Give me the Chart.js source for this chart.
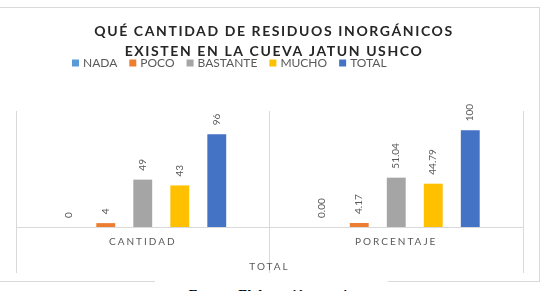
<!DOCTYPE html>
<html><head><meta charset="utf-8">
<script src="https://cdn.jsdelivr.net/npm/chart.js@4/dist/chart.umd.min.js"></script>
<style>
html,body{margin:0;padding:0;background:#fff;overflow:hidden;}
body{width:543px;height:291px;position:relative;}
#frame{position:absolute;left:-5px;top:7px;width:545px;height:275px;box-sizing:border-box;border:1px solid #d9d9d9;}
#wrap{position:absolute;left:0;top:0;width:543px;height:291px;}
#c{display:block;}
#caption{position:absolute;left:155px;top:279px;width:233px;height:20px;background:#fff;text-align:center;font:bold 14px "Liberation Serif",serif;line-height:14px;padding-top:10px;box-sizing:border-box;color:#000;white-space:nowrap;}
</style></head>
<body>
<div id="frame"></div>
<div id="wrap"><canvas id="c" width="543" height="291"></canvas></div>
<div id="caption">Fuente: Elaboración propia</div>
<script>
// ---- data ----
const categories = ['CANTIDAD', 'PORCENTAJE'];
const groupLabel = 'TOTAL';
const seriesNames = ['NADA', 'POCO', 'BASTANTE', 'MUCHO', 'TOTAL'];
const nada = [0, 0];
const poco = [4, 4.17];
const bastante = [49, 51.04];
const mucho = [43, 44.79];
const total = [96, 100];
const titleLines = ['QUÉ CANTIDAD DE RESIDUOS INORGÁNICOS', 'EXISTEN EN LA CUEVA JATUN USHCO'];

// ---- styles ----
const seriesColors = ['#5B9BD5', '#ED7D31', '#A5A5A5', '#FFC000', '#4472C4'];
const seriesData = [nada, poco, bastante, mucho, total];
const txtGray = '#595959';
const lineGray = '#d9d9d9';

function fmt(v, catIndex) {
  if (catIndex === 0) return String(v);
  return (Number.isInteger(v) && v !== 0) ? String(v) : v.toFixed(2);
}

const spacingPlugin = {
  id: 'spacing',
  beforeDraw(chart) { chart.ctx.letterSpacing = '2px'; },
  beforeDatasetsDraw(chart) { chart.ctx.letterSpacing = '0px'; }
};

const labelPlugin = {
  id: 'barLabels',
  afterDatasetsDraw(chart) {
    const ctx = chart.ctx;
    ctx.save();
    ctx.letterSpacing = '0px';
    ctx.font = '10px Lato';
    ctx.fillStyle = txtGray;
    ctx.textAlign = 'left';
    ctx.textBaseline = 'middle';
    chart.data.datasets.forEach((ds, di) => {
      const meta = chart.getDatasetMeta(di);
      meta.data.forEach((bar, i) => {
        ctx.save();
        ctx.translate(bar.x, bar.y - 9);
        ctx.rotate(-Math.PI / 2);
        ctx.fillText(fmt(ds.data[i], i), 0, 0);
        ctx.restore();
      });
    });
    ctx.restore();
  }
};

const headerPlugin = {
  id: 'header',
  afterDraw(chart) {
    const ctx = chart.ctx;
    ctx.save();
    // title
    ctx.letterSpacing = '1.6px';
    ctx.font = 'bold 14px Lato';
    ctx.fillStyle = '#262626';
    ctx.textAlign = 'center';
    ctx.textBaseline = 'middle';
    ctx.fillText(titleLines[0], 274, 31);
    ctx.fillText(titleLines[1], 274, 51);
    // legend
    ctx.letterSpacing = '0px';
    ctx.font = '12px Lato';
    ctx.textAlign = 'left';
    let x = 72;
    const y = 63;
    chart.data.datasets.forEach((ds) => {
      ctx.fillStyle = ds.backgroundColor;
      ctx.fillRect(x, y - 3.5, 7, 7);
      ctx.fillStyle = txtGray;
      ctx.fillText(ds.label, x + 11, y);
      x += 11 + ctx.measureText(ds.label).width + 12;
    });
    ctx.restore();
  }
};

new Chart(document.getElementById('c'), {
  type: 'bar',
  data: {
    labels: categories,
    datasets: seriesNames.map((n, i) => ({
      label: n,
      data: seriesData[i],
      backgroundColor: seriesColors[i],
      borderWidth: 0,
      barPercentage: 0.51,
      categoryPercentage: 0.73
    }))
  },
  options: {
    responsive: false,
    animation: false,
    layout: { padding: { left: 16, right: 20, top: 111, bottom: 0 } },
    plugins: { legend: { display: false }, title: { display: false }, tooltip: { enabled: false } },
    scales: {
      x: {
        offset: true,
        grid: { offset: true, color: lineGray, lineWidth: 1, drawTicks: true, tickLength: 46, tickColor: lineGray },
        border: { display: true, color: lineGray, width: 1 },
        ticks: { color: txtGray, font: { family: 'Lato', size: 10 }, padding: -37, autoSkip: false, maxRotation: 0 },
        title: { display: true, text: groupLabel, color: txtGray, font: { family: 'Lato', size: 10 }, padding: { top: 0, bottom: 18 } },
        afterFit(scale) { scale.height = 64; }
      },
      y: { display: false, min: 0, max: 120 }
    }
  },
  plugins: [spacingPlugin, labelPlugin, headerPlugin]
});
</script>
</body></html>
